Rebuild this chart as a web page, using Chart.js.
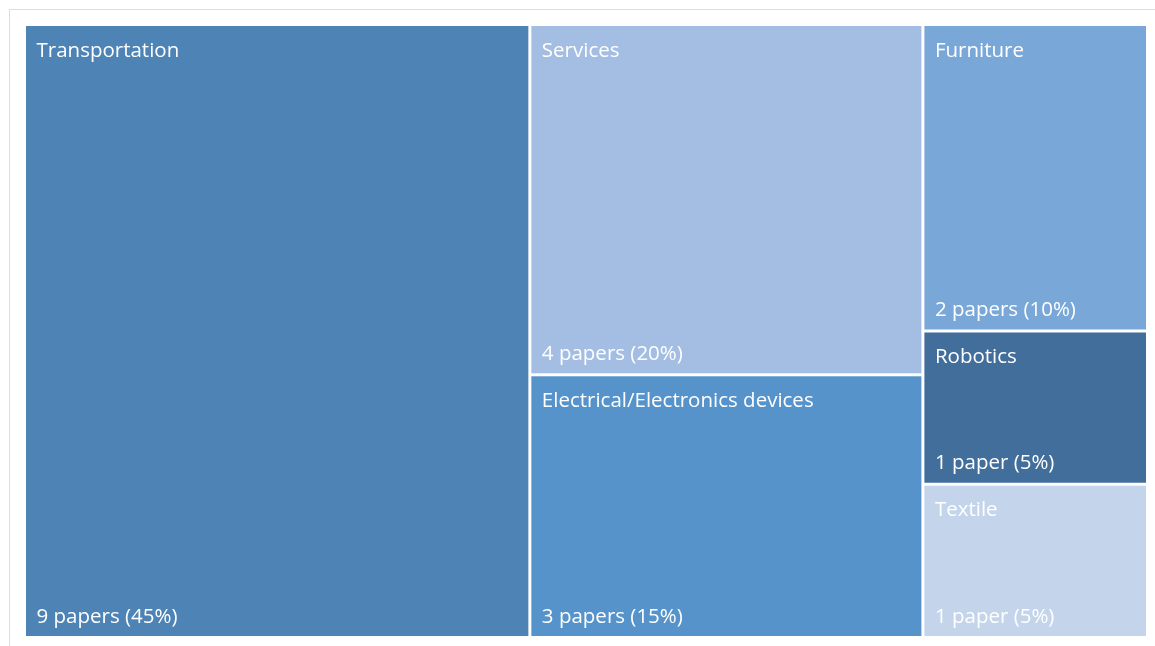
<!DOCTYPE html>
<html>
<head>
<meta charset="utf-8">
<script src="https://cdn.jsdelivr.net/npm/chart.js@4"></script>
<style>
  html, body { margin: 0; padding: 0; background: #fff; overflow: hidden; }
  #frame { position: absolute; left: 9px; top: 9px; width: 1200px; height: 700px; border-left: 1px solid #dcdcdc; border-top: 1px solid #dcdcdc; }
  #wrap { position: absolute; left: 0; top: 0; width: 1155px; height: 646px; }
</style>
</head>
<body>
<div id="frame"></div>
<div id="wrap"><canvas id="treemap"></canvas></div>
<script>
// datos del treemap
const categorias = ["Transportation", "Services", "Electrical/Electronics devices", "Furniture", "Robotics", "Textile"];
const papers = [9, 4, 3, 2, 1, 1];
const colores = ["#4d83b5", "#a3bee2", "#5593ca", "#79a7d8", "#416e9b", "#c3d4eb"];

function etiqueta(n) {
  let total = papers.reduce((a, b) => a + b, 0);
  let pct = Math.round((n / total) * 100);
  return n + (n == 1 ? " paper" : " papers") + " (" + pct + "%)";
}

// squarify: devuelve rectangulos {x, y, w, h} para cada valor
function squarify(valores, x, y, w, h) {
  let total = valores.reduce((a, b) => a + b, 0);
  let escala = (w * h) / total;
  let areas = valores.map((v) => v * escala);
  let rects = [];
  let i = 0;

  function peor(fila, lado) {
    let s = fila.reduce((a, b) => a + b, 0);
    let max = Math.max(...fila);
    let min = Math.min(...fila);
    return Math.max((lado * lado * max) / (s * s), (s * s) / (lado * lado * min));
  }

  while (i < areas.length) {
    let lado = Math.min(w, h);
    let fila = [areas[i]];
    let j = i + 1;
    while (j < areas.length && peor(fila.concat(areas[j]), lado) <= peor(fila, lado)) {
      fila.push(areas[j]);
      j++;
    }
    let s = fila.reduce((a, b) => a + b, 0);
    if (w >= h) {
      // columna a la izquierda
      let ancho = s / h;
      let yy = y;
      fila.forEach((a) => {
        rects.push({ x: x, y: yy, w: ancho, h: a / ancho });
        yy += a / ancho;
      });
      x += ancho;
      w -= ancho;
    } else {
      // fila arriba
      let alto = s / w;
      let xx = x;
      fila.forEach((a) => {
        rects.push({ x: xx, y: y, w: a / alto, h: alto });
        xx += a / alto;
      });
      y += alto;
      h -= alto;
    }
    i = j;
  }
  return rects;
}

const treemapPlugin = {
  id: "treemap",
  afterDatasetsDraw(chart) {
    const ctx = chart.ctx;
    const sx = chart.scales.x;
    const sy = chart.scales.y;
    let left = sx.getPixelForValue(0);
    let right = sx.getPixelForValue(1);
    let top = sy.getPixelForValue(1);
    let bottom = sy.getPixelForValue(0);
    let rects = squarify(papers, left, top, right - left, bottom - top);
    let gap = 1.5;
    ctx.save();
    rects.forEach((r, k) => {
      ctx.fillStyle = colores[k];
      ctx.fillRect(r.x + gap, r.y + gap, r.w - gap * 2, r.h - gap * 2);
      ctx.fillStyle = "#ffffff";
      ctx.font = "20.5px 'Open Sans', sans-serif";
      ctx.textAlign = "left";
      ctx.textBaseline = "alphabetic";
      ctx.fillText(categorias[k], r.x + 12, r.y + 32);
      ctx.fillText(etiqueta(papers[k]), r.x + 12, r.y + r.h - 15);
    });
    ctx.restore();
  },
};

new Chart(document.getElementById("treemap"), {
  type: "scatter",
  data: { datasets: [{ data: [] }] },
  options: {
    responsive: true,
    maintainAspectRatio: false,
    animation: false,
    layout: { padding: { left: 24.5, top: 24.5, right: 7.5, bottom: 8.5 } },
    plugins: { legend: { display: false }, tooltip: { enabled: false } },
    scales: {
      x: { type: "linear", min: 0, max: 1, display: false },
      y: { type: "linear", min: 0, max: 1, display: false },
    },
  },
  plugins: [treemapPlugin],
});
</script>
</body>
</html>
